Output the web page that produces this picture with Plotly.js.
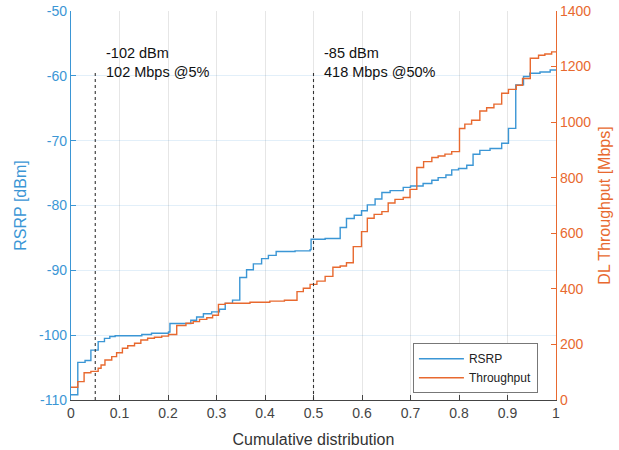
<!DOCTYPE html>
<html>
<head>
<meta charset="utf-8">
<script src="https://cdn.plot.ly/plotly-3.0.1.min.js"></script>
<style>html,body{margin:0;padding:0;background:#fff;}#chart{width:619px;height:450px;}</style>
</head>
<body>
<div id="chart"></div>
<script>
// CDF positions and RSRP values (dBm)
const cdfRsrp = [0, 0.014, 0.029, 0.041, 0.056, 0.069, 0.080, 0.091, 0.146, 0.166, 0.201, 0.204, 0.247, 0.259, 0.273, 0.290, 0.306, 0.318, 0.333, 0.348, 0.362, 0.376, 0.393, 0.407, 0.423, 0.462, 0.493, 0.495, 0.524, 0.555, 0.568, 0.584, 0.599, 0.611, 0.627, 0.641, 0.658, 0.685, 0.700, 0.726, 0.744, 0.757, 0.773, 0.785, 0.799, 0.816, 0.829, 0.843, 0.864, 0.888, 0.902, 0.917, 0.933, 0.946, 0.967, 0.988, 1.0];
const rsrp = [-109.2, -104.2, -103.9, -102.3, -101.0, -100.5, -100.2, -100.1, -99.9, -99.7, -99.5, -98.2, -97.7, -97.2, -96.7, -96.4, -96.0, -95.1, -94.6, -91.1, -89.9, -89.0, -88.2, -87.7, -87.1, -87.0, -86.8, -85.2, -85.1, -83.4, -82.0, -81.5, -80.8, -79.9, -79.0, -78.0, -77.7, -77.2, -77.0, -76.6, -76.1, -75.7, -75.3, -74.5, -74.3, -73.8, -72.1, -71.5, -71.2, -70.4, -68.1, -61.4, -60.1, -59.6, -59.4, -59.1, -59.0];

// CDF positions and DL throughput values (Mbps)
const cdfTput = [0, 0.014, 0.027, 0.041, 0.056, 0.062, 0.070, 0.084, 0.094, 0.106, 0.117, 0.131, 0.144, 0.158, 0.172, 0.187, 0.201, 0.218, 0.237, 0.252, 0.265, 0.280, 0.292, 0.304, 0.318, 0.369, 0.410, 0.440, 0.466, 0.479, 0.493, 0.507, 0.524, 0.540, 0.555, 0.568, 0.582, 0.599, 0.611, 0.625, 0.641, 0.654, 0.668, 0.685, 0.699, 0.713, 0.727, 0.744, 0.757, 0.771, 0.785, 0.801, 0.812, 0.826, 0.843, 0.857, 0.872, 0.888, 0.902, 0.918, 0.931, 0.947, 0.964, 0.977, 0.991, 1.0];
const tput = [46, 66, 98, 103, 114, 126, 144, 156, 170, 186, 195, 204, 216, 222, 226, 230, 236, 268, 276, 282, 290, 296, 305, 344, 348, 352, 356, 359, 390, 402, 416, 428, 445, 478, 482, 494, 552, 606, 654, 668, 678, 709, 722, 729, 758, 837, 858, 873, 878, 885, 894, 977, 993, 1007, 1040, 1052, 1065, 1104, 1118, 1133, 1157, 1230, 1241, 1245, 1253, 1253];

// Tick labels
const xTickVals = [0, 0.1, 0.2, 0.3, 0.4, 0.5, 0.6, 0.7, 0.8, 0.9, 1];
const xTickText = ["0", "0.1", "0.2", "0.3", "0.4", "0.5", "0.6", "0.7", "0.8", "0.9", "1"];
const yTickVals = [-110, -100, -90, -80, -70, -60, -50];
const yTickText = ["-110", "-100", "-90", "-80", "-70", "-60", "-50"];
const y2TickVals = [0, 200, 400, 600, 800, 1000, 1200, 1400];
const y2TickText = ["0", "200", "400", "600", "800", "1000", "1200", "1400"];

// Markers (percentile lines) and their labels
const markX = [0.05, 0.5];
const markText = ["-102 dBm<br>102 Mbps @5%", "-85 dBm<br>418 Mbps @50%"];

const BLUE = "#3b96d5";
const ORANGE = "#e8692f";
const FONT = "Liberation Sans, Arial, sans-serif";

const traces = [
  {x: cdfRsrp, y: rsrp, name: "RSRP", type: "scatter", mode: "lines",
   line: {color: BLUE, width: 1.4, shape: "hv"}, yaxis: "y"},
  {x: cdfTput, y: tput, name: "Throughput", type: "scatter", mode: "lines",
   line: {color: ORANGE, width: 1.4, shape: "hv"}, yaxis: "y2"}
];

const shapes = markX.map(v => ({
  type: "line", xref: "x", yref: "y", x0: v, x1: v, y0: -110, y1: -59.5,
  line: {color: "#333", width: 1.1, dash: "dot"}
}));

const annotations = markX.map((v, i) => ({
  xref: "x", yref: "y", x: v + 0.018, y: -57.9, text: markText[i],
  showarrow: false, xanchor: "left", yanchor: "middle", align: "left",
  font: {family: FONT, size: 14.5, color: "#111"}
}));

const layout = {
  width: 619, height: 450,
  margin: {l: 71, r: 63, t: 11, b: 50},
  paper_bgcolor: "#fff", plot_bgcolor: "#fff",
  font: {family: FONT, size: 14},
  showlegend: true,
  legend: {x: 0.705, y: 0.146, xanchor: "left", yanchor: "top",
           bgcolor: "#fff", bordercolor: "#777", borderwidth: 1,
           itemwidth: 45,
           font: {family: FONT, size: 12, color: "#222"}, tracegroupgap: 0},
  xaxis: {range: [0, 1], tickvals: xTickVals, ticktext: xTickText,
          ticks: "inside", ticklen: 5, tickcolor: "#444",
          showline: true, linecolor: "#444", linewidth: 1,
          showgrid: true, gridcolor: "#e6e6e6", zeroline: false,
          tickfont: {family: FONT, size: 14, color: "#444"},
          title: {text: "Cumulative distribution", font: {family: FONT, size: 16, color: "#333"}, standoff: 14}},
  yaxis: {range: [-110, -50], tickvals: yTickVals, ticktext: yTickText,
          ticks: "inside", ticklen: 5, tickcolor: BLUE,
          showline: true, linecolor: BLUE, linewidth: 1.2,
          showgrid: true, gridcolor: "rgba(59,150,213,0.15)", zeroline: false,
          tickfont: {family: FONT, size: 14, color: BLUE},
          title: {text: "RSRP [dBm]", font: {family: FONT, size: 16, color: BLUE}, standoff: 8}},
  yaxis2: {range: [0, 1400], tickvals: y2TickVals, ticktext: y2TickText,
           overlaying: "y", side: "right", anchor: "x",
           ticks: "inside", ticklen: 5, tickcolor: ORANGE,
           showline: true, linecolor: ORANGE, linewidth: 1.2,
           showgrid: false, zeroline: false,
           tickfont: {family: FONT, size: 14, color: ORANGE},
           title: {text: "DL Throughput [Mbps]", font: {family: FONT, size: 16, color: ORANGE}, standoff: 8}},
  shapes: shapes,
  annotations: annotations
};

Plotly.newPlot("chart", traces, layout, {displayModeBar: false, staticPlot: true});
</script>
</body>
</html>
